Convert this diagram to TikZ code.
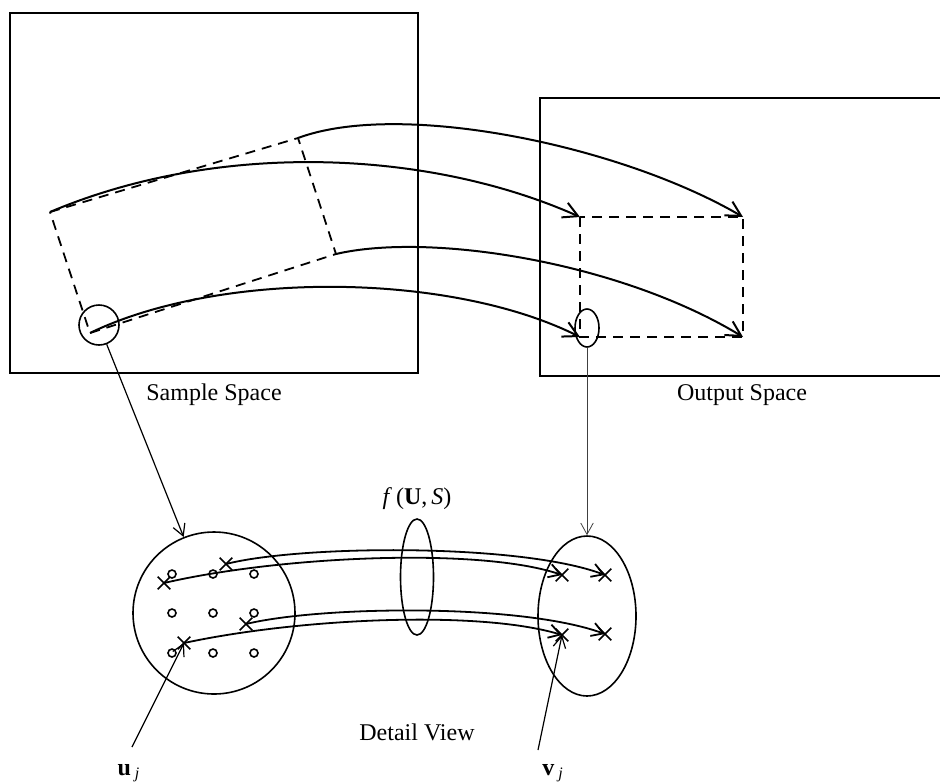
\documentclass[tikz,border=0pt]{standalone}
\usepackage{fontspec}
\setmainfont{Liberation Serif}
\usetikzlibrary{arrows.meta,positioning,shapes.geometric,shapes.misc}

\begin{document}
\begin{tikzpicture}[
  x=0.5pt,y=-0.5pt,
  font=\fontsize{12}{14}\selectfont,
  spacebox/.style={draw,line width=1pt,inner sep=0pt},
  lens/.style={draw,ellipse,line width=0.8pt,inner sep=0pt},
  region/.style={draw,line width=0.9pt,dash pattern=on 5pt off 3.5pt},
  map/.style={line width=1pt,-{Straight Barb[length=2.6mm,width=2.8mm]}},
  detailmap/.style={line width=0.9pt,-{Straight Barb[length=2mm,width=2.4mm]}},
  pointer/.style={line width=0.6pt,-{Straight Barb[length=2mm,width=2.2mm]}},
  sample/.style={circle,draw,line width=0.8pt,inner sep=0pt,minimum size=4pt},
  pick/.style={cross out,draw,line width=0.8pt,inner sep=0pt,minimum size=5.5pt}
]
\useasboundingbox (0,0) rectangle (940,782);
\clip (0,0) rectangle (940,782);

% the two spaces
\node[spacebox,minimum width=204pt,minimum height=180pt] (samplebox) at (214,193) {};
\node[spacebox,minimum width=210pt,minimum height=139pt] (outputbox) at (750,237) {};
\node[below=1.5pt of samplebox] (samplelabel) {Sample Space};
\node (outputlabel) at (742,395) {Output Space};

% region in sample space and its image
\coordinate (A) at (50,212);
\coordinate (B) at (298,138);
\coordinate (C) at (336,254);
\coordinate (D) at (90,333);
\coordinate (P) at (580,217);
\coordinate (Q) at (743,217);
\coordinate (R) at (743,337);
\coordinate (S) at (580,337);
\draw[region] (A) -- (B) -- (C) -- (D) -- cycle;
\draw[region] (P) rectangle (R);

\draw[map] (B) .. controls (400,100) and (620,145) .. (Q);
\draw[map] (A) .. controls (220,140) and (430,150) .. (P);
\draw[map] (C) .. controls (430,232) and (620,262) .. (R);
\draw[map] (D) .. controls (220,270) and (450,272) .. (S);

% lenses
\node[lens,minimum width=20pt,minimum height=20pt] (samplelens) at (99,325) {};
\node[lens,minimum width=12pt,minimum height=19pt] (outputlens) at (587,328) {};

% detail view
\node[lens,minimum width=81pt,minimum height=81pt] (detailin) at (214,613) {};
\node[lens,minimum width=16.5pt,minimum height=58pt] (fmap) at (417,577) {};
\node[lens,minimum width=49pt,minimum height=80pt] (detailout) at (587,616) {};
\node[above=1pt of fmap] (fmaplabel) {\textit{f}\,(\textbf{U},\,\textit{S})};
\node (detaillabel) at (417,732) {Detail View};

\draw[pointer] (samplelens) -- (detailin);
\draw[pointer,line width=0.4pt,draw=black!75] (outputlens) -- (detailout);

\foreach \i/\x in {1/172,2/213,3/254}
  \foreach \j/\y in {1/574,2/613,3/653}
    \node[sample] (s\i\j) at (\x,\y) {};

\node[pick] (u1) at (164,583) {};
\node[pick] (u2) at (226,564) {};
\node[pick] (u3) at (184,643) {};
\node[pick] (u4) at (246,624) {};
\node[pick] (v1) at (562,575) {};
\node[pick] (v2) at (605,575) {};
\node[pick] (v3) at (562,635) {};
\node[pick] (v4) at (605,634) {};

\draw[detailmap] (u2.center) .. controls (300,545) and (520,543) .. (v2.center);
\draw[detailmap] (u1.center) .. controls (280,556) and (480,547) .. (v1.center);
\draw[detailmap] (u4.center) .. controls (320,606) and (520,603) .. (v4.center);
\draw[detailmap] (u3.center) .. controls (300,618) and (480,610) .. (v3.center);

% labels for one sample and its output
\node (uj) at (129,773) {\textbf{u}\,\textsubscript{\textit{j}}};
\node (vj) at (553,773) {\textbf{v}\,\textsubscript{\textit{j}}};
\coordinate (ujtail) at (132,747);
\coordinate (vjtail) at (538,750);
\draw[pointer] (ujtail) -- (u3.center);
\draw[pointer] (vjtail) -- (v3.center);
\end{tikzpicture}
\end{document}
